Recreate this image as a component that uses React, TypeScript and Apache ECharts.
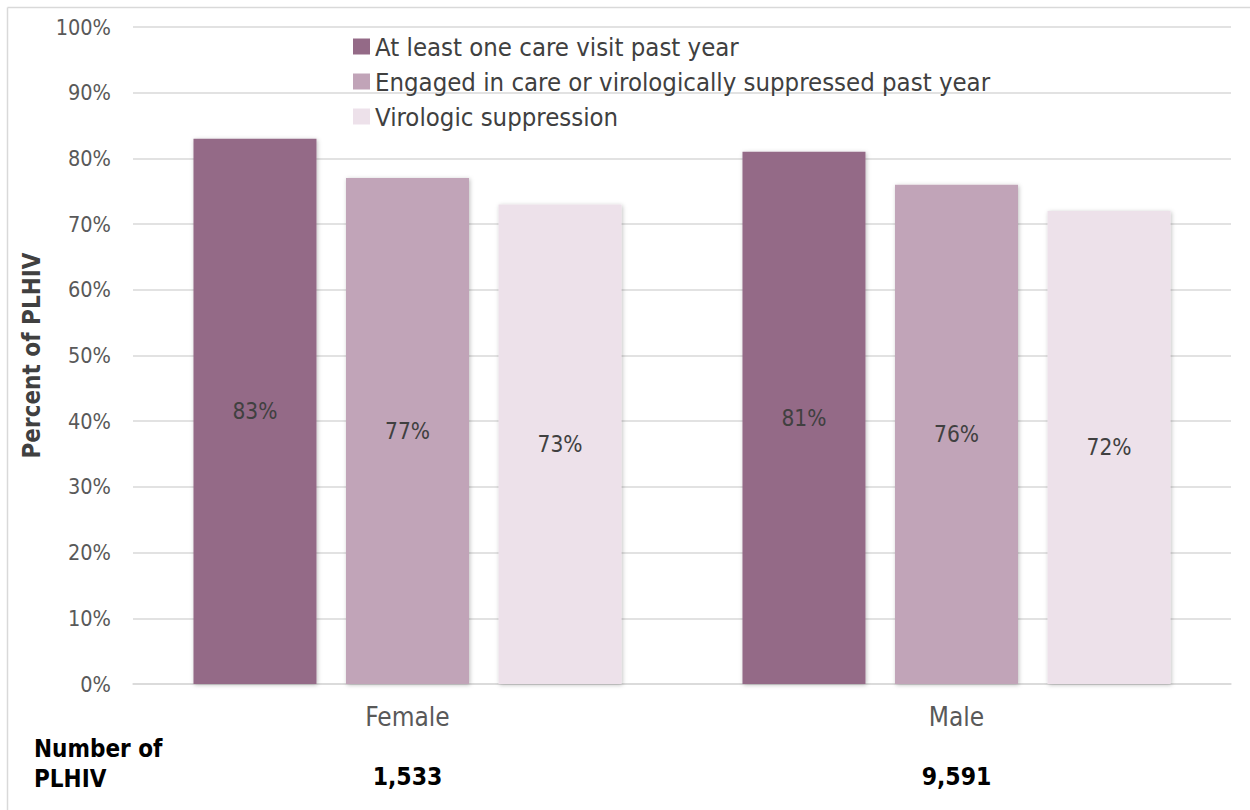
import React, { useEffect, useRef } from "react";
import * as echarts from "echarts";

// Chart data
const categories = ["Female", "Male"];
const plhivCounts = ["1,533", "9,591"];
const seriesNames = [
  "At least one care visit past year",
  "Engaged in care or virologically suppressed past year",
  "Virologic suppression",
];
const careVisit = [83, 81];
const engagedOrSuppressed = [77, 76];
const virologicSuppression = [73, 72];
const seriesColors = ["#946a87", "#c1a4b8", "#ede1ea"];

const FONT = "'DejaVu Sans Condensed', 'DejaVu Sans', sans-serif";

export default function App() {
  const ref = useRef<HTMLDivElement>(null);

  useEffect(() => {
    document.body.style.margin = "0";
    if (!ref.current) return;
    const chart = echarts.init(ref.current, undefined, { renderer: "svg" });
    const values = [careVisit, engagedOrSuppressed, virologicSuppression];

    chart.setOption({
      animation: false,
      backgroundColor: "#ffffff",
      textStyle: { fontFamily: FONT },
      grid: { left: 133, right: 19, top: 27, bottom: 126, containLabel: false },
      legend: {
        orient: "vertical",
        left: 353,
        top: 33.5,
        padding: 0,
        itemWidth: 17,
        itemHeight: 16,
        itemGap: 9,
        icon: "rect",
        textStyle: { fontSize: 25.5, color: "#404040", fontFamily: FONT },
        data: seriesNames,
      },
      xAxis: {
        type: "category",
        data: categories,
        axisLine: { show: true, lineStyle: { color: "#d9d9d9", width: 1.5 } },
        axisTick: { show: false },
        axisLabel: {
          margin: 20,
          formatter: (v: string, i: number) => `{a|${v}}\n{b|${plhivCounts[i]}}`,
          rich: {
            a: { fontSize: 26, color: "#595959", lineHeight: 26, fontFamily: FONT },
            b: {
              fontSize: 24.5,
              fontWeight: "bold",
              color: "#000000",
              lineHeight: 92,
              fontFamily: FONT,
            },
          },
        },
      },
      yAxis: {
        type: "value",
        min: 0,
        max: 100,
        interval: 10,
        name: "Percent of PLHIV",
        nameLocation: "middle",
        nameRotate: 90,
        nameGap: 89,
        nameTextStyle: { fontSize: 24, fontWeight: "bold", color: "#404040", fontFamily: FONT },
        axisLine: { show: false },
        axisTick: { show: false },
        axisLabel: {
          formatter: "{value}%",
          fontSize: 21.5,
          color: "#595959",
          margin: 22,
          fontFamily: FONT,
        },
        splitLine: { lineStyle: { color: "#d9d9d9", width: 1.5 } },
      },
      series: seriesNames.map((name, i) => ({
        name,
        type: "bar",
        data: values[i],
        barWidth: 123,
        barGap: "24%",
        itemStyle: {
          color: seriesColors[i],
          shadowBlur: 4,
          shadowColor: "rgba(0,0,0,0.25)",
          shadowOffsetX: 1,
          shadowOffsetY: 1,
        },
        label: {
          show: true,
          position: "inside",
          formatter: "{c}%",
          fontSize: 22.5,
          color: "#404040",
          fontFamily: FONT,
        },
      })),
      graphic: [
        {
          type: "line",
          shape: { x1: 7.5, y1: 7.5, x2: 1250, y2: 7.5 },
          style: { stroke: "#d9d9d9", lineWidth: 1.5 },
        },
        {
          type: "line",
          shape: { x1: 7.5, y1: 7.5, x2: 7.5, y2: 810 },
          style: { stroke: "#d9d9d9", lineWidth: 1.5 },
        },
        {
          type: "text",
          left: 34,
          top: 734,
          style: {
            text: "Number of\nPLHIV",
            fontSize: 24,
            fontWeight: "bold",
            fill: "#000000",
            lineHeight: 30,
            fontFamily: FONT,
          },
        },
      ],
    });

    return () => chart.dispose();
  }, []);

  return (
    <div
      ref={ref}
      style={{ position: "absolute", left: 0, top: 0, width: 1250, height: 810 }}
    />
  );
}
